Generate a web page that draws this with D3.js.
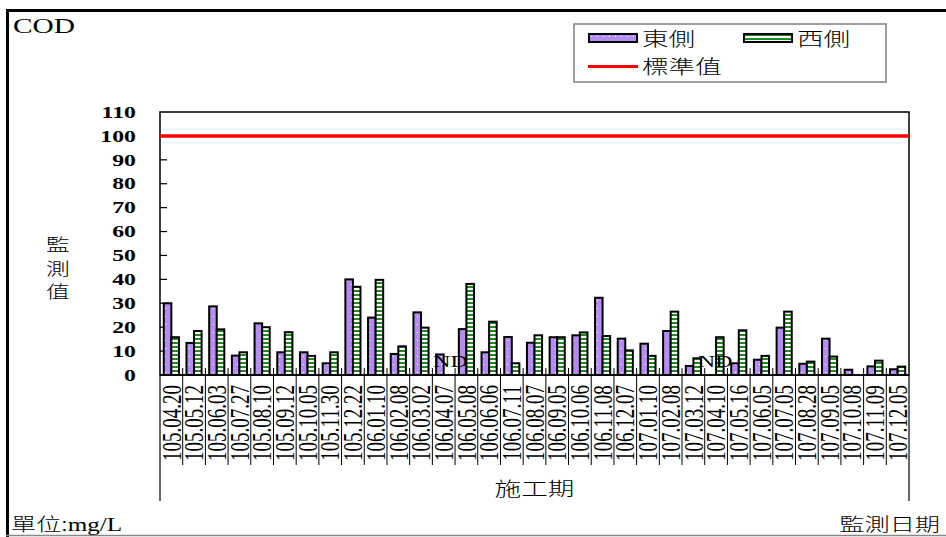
<!DOCTYPE html>
<html><head><meta charset="utf-8">
<script src="https://cdn.jsdelivr.net/npm/d3@7"></script>
<style>
html,body{margin:0;padding:0;background:#fff;}
svg{display:block;}
.ser{font-family:"Liberation Serif","Times New Roman",serif;}
.cjk{font-family:"Noto Sans CJK TC","Noto Sans CJK SC",sans-serif;font-weight:300;}
</style></head>
<body><svg id="c" width="946" height="537"></svg>
<script>
const dates = ["105.04.20","105.05.12","105.06.03","105.07.27","105.08.10","105.09.12","105.10.05","105.11.30","105.12.22",
"106.01.10","106.02.08","106.03.02","106.04.07","106.05.08","106.06.06","106.07.11","106.08.07","106.09.05","106.10.06","106.11.08","106.12.07",
"107.01.10","107.02.08","107.03.12","107.04.10","107.05.16","107.06.05","107.07.05","107.08.28","107.09.05","107.10.08","107.11.09","107.12.05"];
const east = [30,13.4,28.7,8.1,21.6,9.5,9.5,4.9,40,24,8.8,26.2,8.6,19.2,9.5,15.9,13.5,15.8,16.6,32.3,15.2,13.1,18.4,3.8,null,4.9,6.4,19.8,4.7,15.2,2.2,3.6,2.4];
const west = [15.8,18.4,19.1,9.5,20,17.9,8,9.5,36.9,39.8,12,19.8,null,38.1,22.3,4.9,16.6,15.8,17.8,16.3,10.3,8,26.5,7,15.8,18.7,8,26.5,5.6,7.7,null,6,3.5];
const standard = 100;
const yTicks = [0,10,20,30,40,50,60,70,80,90,100,110];
const ndNotes = [{date:"106.04.07", series:"west"},{date:"107.04.10", series:"east"}];
const seriesNames = {east:"東側", west:"西側", std:"標準值"};

const SX = 1.4;
const svg = d3.select("#c");
const defs = svg.append("defs");
const p1 = defs.append("pattern").attr("id","pEast").attr("patternUnits","userSpaceOnUse").attr("width",6).attr("height",8);
p1.append("rect").attr("width",6).attr("height",8).attr("fill","#b48cf2");
p1.append("rect").attr("x",3).attr("y",4).attr("width",1).attr("height",1).attr("fill","#ffffff");
const p2 = defs.append("pattern").attr("id","pWest").attr("patternUnits","userSpaceOnUse").attr("width",6).attr("height",4);
p2.append("rect").attr("width",6).attr("height",4).attr("fill","#ffffff");
p2.append("rect").attr("y",2).attr("width",6).attr("height",2).attr("fill","#1f8a1f");

const L=160, R=909, T=112, B=375;
const x = d3.scaleBand().domain(dates).range([L,R]).padding(0);
const xs = d3.scaleBand().domain(["east","west"]).range([0,x.bandwidth()]).paddingInner(0).paddingOuter(0.5);
const y = d3.scaleLinear().domain([0,110]).range([B,T]);

function sText(g, str, tx, ty, size, cls, anchor, extra){
  return g.append("text").attr("class",cls).attr("font-size",size)
    .attr("text-anchor",anchor||"start")
    .attr("transform",`translate(${tx},${ty}) scale(${SX},1)${extra||""}`).text(str);
}

// frame
svg.append("line").attr("x1",7.5).attr("x2",7.5).attr("y1",9).attr("y2",537).attr("stroke","#000").attr("stroke-width",3);
svg.append("line").attr("x1",6).attr("x2",946).attr("y1",10.5).attr("y2",10.5).attr("stroke","#000").attr("stroke-width",3);
svg.append("line").attr("x1",6).attr("x2",946).attr("y1",535.5).attr("y2",535.5).attr("stroke","#888").attr("stroke-width",1.5);

sText(svg,"COD",13,33,21,"ser","start");
const unit = svg.append("text").attr("font-size",18).attr("transform",`translate(11,531) scale(${SX},1)`);
unit.append("tspan").attr("class","cjk").text("單位:");
unit.append("tspan").attr("class","ser").text("mg/L");
sText(svg,"監測日期",940,531,18,"cjk","end");

["監","測","值"].forEach((c,i)=>sText(svg,c,58,251+i*23.5,17,"cjk","middle"));

svg.append("rect").attr("x",L).attr("y",T).attr("width",R-L).attr("height",B-T).attr("fill","none").attr("stroke","#000").attr("stroke-width",1.5);

const gy = svg.append("g");
yTicks.filter(v=>v>0&&v<110).forEach(v=>{
  gy.append("line").attr("x1",L).attr("x2",L+7).attr("y1",y(v)).attr("y2",y(v)).attr("stroke","#000").attr("stroke-width",1.2);
});
yTicks.forEach(v=>{
  sText(gy,String(v),136,y(v),17,"ser","end").attr("dominant-baseline","central").attr("font-weight","bold");
});

const data = dates.map((d,i)=>({d, east:east[i], west:west[i]}));
const gb = svg.append("g");
["east","west"].forEach(s=>{
  gb.selectAll("rect."+s).data(data.filter(r=>r[s]!=null)).join("rect").attr("class",s)
    .attr("x",r=>x(r.d)+xs(s)).attr("width",xs.bandwidth())
    .attr("y",r=>y(r[s])).attr("height",r=>y(0)-y(r[s]))
    .attr("fill",s==="east"?"url(#pEast)":"url(#pWest)")
    .attr("stroke","#000").attr("stroke-width",2);
});

ndNotes.forEach(n=>{
  sText(svg,"ND",x(n.date)+xs(n.series)+xs.bandwidth()/2+3,y(0)-8,17,"ser","middle");
});

svg.append("line").attr("x1",L).attr("x2",R).attr("y1",y(standard)).attr("y2",y(standard)).attr("stroke","#ff0000").attr("stroke-width",3.5);

const gx = svg.append("g");
gx.append("line").attr("x1",L).attr("x2",R).attr("y1",B).attr("y2",B).attr("stroke","#000").attr("stroke-width",1.5);
dates.forEach((d,i)=>{
  if(i>0) gx.append("line").attr("x1",x(d)).attr("x2",x(d)).attr("y1",B-7).attr("y2",465).attr("stroke","#000").attr("stroke-width",1);
});
[L,R].forEach(xx=>gx.append("line").attr("x1",xx).attr("x2",xx).attr("y1",B).attr("y2",501).attr("stroke","#000").attr("stroke-width",1.2));
dates.forEach(d=>{
  gx.append("text").attr("class","ser").attr("font-size",19).attr("text-anchor","middle")
    .attr("dominant-baseline","central")
    .attr("transform",`translate(${x(d)+x.bandwidth()/2},423) scale(${SX},1) rotate(-90)`).text(d);
});
sText(gx,"施工期",(L+R)/2,496,19,"cjk","middle");

const lg = svg.append("g");
lg.append("rect").attr("x",574).attr("y",24).attr("width",312).attr("height",58).attr("fill","#fff").attr("stroke","#808080").attr("stroke-width",1.5);
lg.append("rect").attr("x",589).attr("y",34).attr("width",48).attr("height",8).attr("fill","url(#pEast)").attr("stroke","#000").attr("stroke-width",2);
sText(lg,seriesNames.east,642,46,19,"cjk","start");
lg.append("rect").attr("x",744).attr("y",34).attr("width",48).attr("height",8).attr("fill","url(#pWest)").attr("stroke","#000").attr("stroke-width",2);
sText(lg,seriesNames.west,797,46,19,"cjk","start");
lg.append("line").attr("x1",588).attr("x2",638).attr("y1",66.5).attr("y2",66.5).attr("stroke","#ff0000").attr("stroke-width",3);
sText(lg,seriesNames.std,642,74,19,"cjk","start");
</script></body></html>
